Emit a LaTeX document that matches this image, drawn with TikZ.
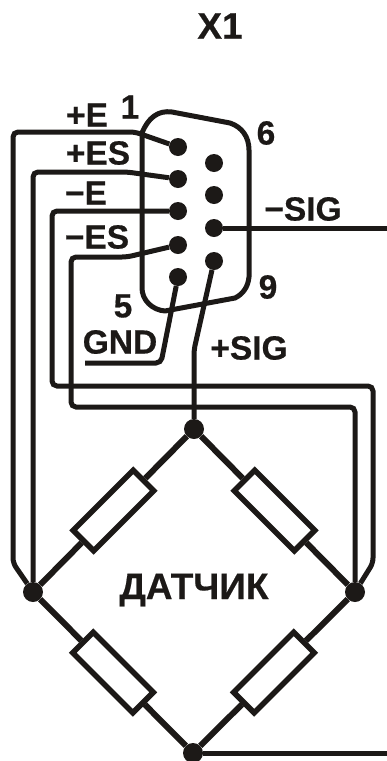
\documentclass[tikz,border=0pt]{standalone}
\usepackage{fontspec}
\setmainfont[BoldFeatures={FakeBold=0.5}]{Liberation Sans}
\usetikzlibrary{calc}
\definecolor{ink}{RGB}{28,25,23}
\tikzset{
  wire/.style={draw=ink, line width=5pt, rounded corners=5pt},
  arm/.style={draw=ink, line width=6pt},
  pin/.style={circle, fill=ink, minimum size=18pt, inner sep=0pt},
  junction/.style={circle, fill=ink, minimum size=20pt, inner sep=0pt},
  resistor/.style={draw=ink, line width=5.5pt, fill=white, minimum width=85pt, minimum height=29pt, inner sep=0pt},
  lbl/.style={text=ink, font=\bfseries\fontsize{33.5}{33.5}\selectfont, inner sep=0pt}
}

\begin{document}
\begin{tikzpicture}[x=1pt, y=-1pt]
    \useasboundingbox (0,0) rectangle (387,761);

    % connector shell
    \draw[draw=ink, line width=5pt, line join=round] (142,133) .. controls (148,118) and (158,110) .. (172,112) -- (230,123) .. controls (242,127) and (249,137) .. (249,150) -- (249,277) .. controls (248,287) and (243,294) .. (235,298) -- (165,311) .. controls (152,310) and (142,300) .. (142,288) -- cycle;

    \node[pin] (pin1) at (178,147) {};
    \node[pin] (pin2) at (178,179) {};
    \node[pin] (pin3) at (178,211) {};
    \node[pin] (pin4) at (178,245) {};
    \node[pin] (pin5) at (178,277) {};
    \node[pin] (pin6) at (214,163) {};
    \node[pin] (pin7) at (214,195) {};
    \node[pin] (pin8) at (214,228) {};
    \node[pin] (pin9) at (214,261) {};

    % bridge
    \node[junction] (top) at (194,429) {};
    \node[junction] (left) at (33,592) {};
    \node[junction] (right) at (355,592) {};
    \node[junction] (bottom) at (193,753) {};

    \node[resistor, rotate=45] (rtl) at ($(top)!0.5!(left)$) {};
    \node[resistor, rotate=-45] (rtr) at ($(top)!0.5!(right)$) {};
    \node[resistor, rotate=-45] (rbl) at ($(left)!0.5!(bottom)$) {};
    \node[resistor, rotate=45] (rbr) at ($(right)!0.5!(bottom)$) {};

    \draw[arm] (top) -- (rtl);
    \draw[arm] (rtl) -- (left);
    \draw[arm] (top) -- (rtr);
    \draw[arm] (rtr) -- (right);
    \draw[arm] (left) -- (rbl);
    \draw[arm] (rbl) -- (bottom);
    \draw[arm] (right) -- (rbr);
    \draw[arm] (rbr) -- (bottom);

    % free ends
    \coordinate (sigout) at (387,228);
    \coordinate (botout) at (387,753);
    \coordinate (gndend) at (85,363);

    % wires
    \draw[wire] (pin1) -- (135,132) -- (13,132) -- (13,563) -- (left);
    \draw[wire] (pin2) -- (127,172) -- (33,172) -- (left);
    \draw[wire] (pin3) -- (52,211) -- (52,386) -- (373,386) -- (373,563) -- (right);
    \draw[wire] (pin4) -- (127,257) -- (71,257) -- (71,407) -- (355,407) -- (right);
    \draw[wire] (pin5) -- (161,363) -- (gndend);
    \draw[wire] (pin9) -- (194,350) -- (top);
    \draw[wire] (pin8) -- (sigout);
    \draw[wire] (bottom) -- (botout);

    % labels
    \node[lbl, font=\bfseries\fontsize{37}{37}\selectfont] (title) at (220,26) {X1};
    \node[lbl] (lbe) at (87,115) {+E};
    \node[lbl] (lnum1) at (130,107) {1};
    \node[lbl] (lbes) at (98,153) {+ES};
    \node[lbl] (lbme) at (86,193) {−E};
    \node[lbl] (lbmes) at (97,237) {−ES};
    \node[lbl] (lbmsig) at (303,209) {−SIG};
    \node[lbl] (lnum6) at (266,133) {6};
    \node[lbl] (lnum9) at (268,287) {9};
    \node[lbl] (lnum5) at (123,306) {5};
    \node[lbl] (lbgnd) at (120,342) {GND};
    \node[lbl] (lbsig) at (249,348) {+SIG};
    \node[lbl, font=\bfseries\fontsize{37}{37}\selectfont] (lbdat) at (194,590) {ДАТЧИК};
  \end{tikzpicture}
\end{document}
